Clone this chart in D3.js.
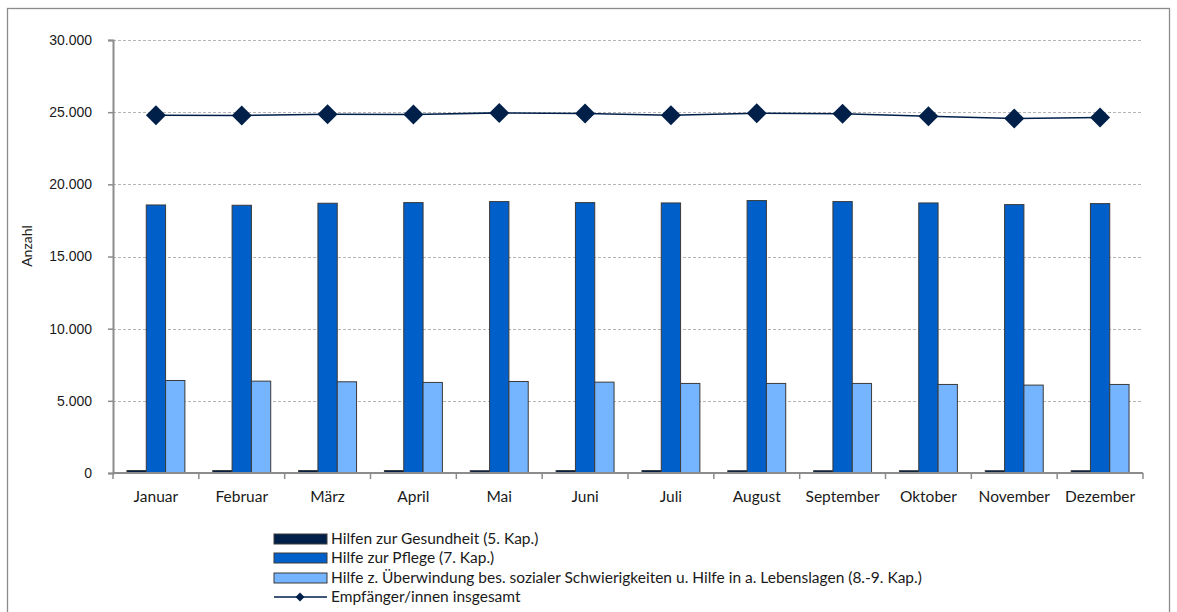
<!DOCTYPE html>
<html><head><meta charset="utf-8">
<script src="https://cdn.jsdelivr.net/npm/d3@7"></script>
<style>
html,body{margin:0;padding:0;background:#fff;}
svg{display:block;}
text{font-family:"Lato","Liberation Sans",sans-serif;fill:#1a1a1a;}
</style></head>
<body>
<svg id="c" width="1177" height="612"></svg>
<script>
const months = ["Januar","Februar","März","April","Mai","Juni","Juli","August","September","Oktober","November","Dezember"];
const gesundheit = [170,170,170,170,160,170,170,160,160,160,160,160];
const pflege = [18570,18550,18690,18735,18805,18735,18710,18875,18805,18710,18595,18665];
const schwierigkeiten = [6410,6365,6320,6275,6340,6295,6205,6205,6205,6135,6090,6135];
const insgesamt = [24790,24770,24860,24840,24950,24910,24790,24930,24890,24720,24560,24630];
const yTicks = [0,5000,10000,15000,20000,25000,30000];
const seriesNames = ["Hilfen zur Gesundheit (5. Kap.)","Hilfe zur Pflege (7. Kap.)","Hilfe z. Überwindung bes. sozialer Schwierigkeiten u. Hilfe in a. Lebenslagen (8.-9. Kap.)","Empfänger/innen insgesamt"];
const colors = ["#00204A","#005FC8","#75B4FF"];
const lineColor = "#00204A";

const svg = d3.select("#c");
svg.append("rect").attr("x",7.5).attr("y",8.5).attr("width",1162).attr("height",620)
  .attr("fill","none").attr("stroke","#8c8c8c").attr("stroke-width",1.3);

const L=113, R=1143, T=40, B=473;
const x = d3.scaleBand().domain(months).range([L,R]).paddingInner(0).paddingOuter(0);
const y = d3.scaleLinear().domain([0,30000]).range([B,T]);
const fmt = d => d3.format(",")(d).replace(/,/g,".");

svg.append("g").selectAll("line").data(yTicks.filter(d=>d>0)).join("line")
  .attr("x1",L).attr("x2",R).attr("y1",d=>Math.round(y(d))+0.5).attr("y2",d=>Math.round(y(d))+0.5)
  .attr("stroke","#b5b5b5").attr("stroke-dasharray","3,2").attr("stroke-width",1);

const groupW = x.bandwidth()*0.675;
const off = (x.bandwidth()-groupW)/2;
const bw = groupW/3;
const data = [gesundheit,pflege,schwierigkeiten];
data.forEach((arr,si)=>{
  svg.append("g").selectAll("rect").data(arr).join("rect")
    .attr("x",(d,i)=>x(months[i])+off+si*bw)
    .attr("y",d=>y(d))
    .attr("width",bw)
    .attr("height",d=>B-y(d))
    .attr("fill",colors[si])
    .attr("stroke","#3a3a3a").attr("stroke-width",1);
});

const yAxis = d3.axisLeft(y).tickValues(yTicks).tickFormat(fmt).tickSize(5).tickPadding(16);
const ya = svg.append("g").attr("transform",`translate(${L},0)`).call(yAxis);
ya.select(".domain").attr("stroke","#8c8c8c").attr("stroke-width",2);
ya.selectAll(".tick line").attr("stroke","#8c8c8c").attr("stroke-width",1.5);
ya.selectAll(".tick text").style("font-family","'Liberation Sans',Arial,sans-serif").style("font-size","14px").attr("fill","#1a1a1a");

const xa = svg.append("g").attr("transform",`translate(0,${B})`);
xa.append("line").attr("x1",L).attr("x2",R).attr("y1",0).attr("y2",0).attr("stroke","#8c8c8c").attr("stroke-width",2);
const bounds = months.map(m=>x(m)).concat([R]);
xa.selectAll(".tk").data(bounds).join("line").attr("class","tk")
  .attr("x1",d=>d).attr("x2",d=>d).attr("y1",0).attr("y2",6).attr("stroke","#8c8c8c").attr("stroke-width",1.5);
xa.selectAll(".lbl").data(months).join("text").attr("class","lbl")
  .attr("x",d=>x(d)+x.bandwidth()/2).attr("y",29).attr("text-anchor","middle")
  .style("font-size","15.5px").text(d=>d);

svg.append("text").attr("transform","translate(32,246) rotate(-90)").attr("text-anchor","middle")
  .style("font-size","14px").text("Anzahl");

const cx = (d,i)=>x(months[i])+x.bandwidth()/2;
const line = d3.line().x(cx).y(d=>y(d));
svg.append("path").datum(insgesamt).attr("d",line).attr("fill","none")
  .attr("stroke",lineColor).attr("stroke-width",1.6);
const diamond = d3.symbol().type(d3.symbolSquare).size(200);
svg.append("g").selectAll("path").data(insgesamt).join("path")
  .attr("d",diamond())
  .attr("transform",(d,i)=>`translate(${cx(d,i)},${y(d)}) rotate(45)`)
  .attr("fill",lineColor);

const lg = svg.append("g");
const ly = [539,558,578,597];
[0,1,2].forEach(i=>{
  lg.append("rect").attr("x",274).attr("y",ly[i]-5).attr("width",53).attr("height",10)
    .attr("fill",colors[i]).attr("stroke","#3a3a3a").attr("stroke-width",1);
});
lg.append("line").attr("x1",274).attr("x2",327).attr("y1",ly[3]).attr("y2",ly[3]).attr("stroke",lineColor).attr("stroke-width",1.5);
lg.append("path").attr("d",d3.symbol().type(d3.symbolSquare).size(40)()).attr("transform",`translate(300,${ly[3]}) rotate(45)`).attr("fill",lineColor);
seriesNames.forEach((n,i)=>{
  lg.append("text").attr("x",331).attr("y",ly[i]).attr("dy","0.35em").style("font-size","15.5px").text(n);
});
</script>
</body></html>
